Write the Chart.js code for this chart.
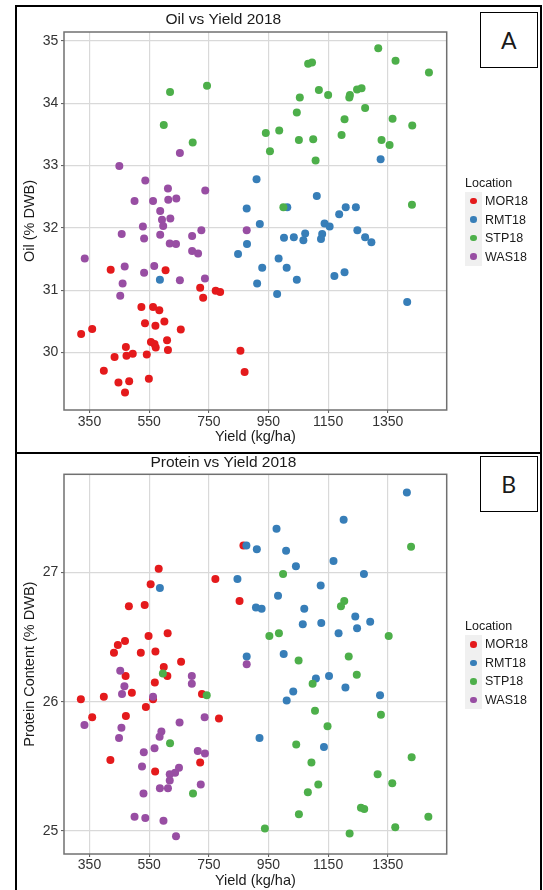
<!DOCTYPE html>
<html>
<head>
<meta charset="utf-8">
<title>Oil and Protein vs Yield 2018</title>
<script src="https://cdn.jsdelivr.net/npm/chart.js@4.4.1/dist/chart.umd.min.js"></script>
<style>
  html, body { margin: 0; padding: 0; background: #fff; }
  #page { position: relative; width: 543px; height: 890px; overflow: hidden; font-family: "Liberation Sans", Arial, sans-serif; color: #1a1a1a; }
  #page canvas { position: absolute; left: 0; }
  .frame { position: absolute; left: 15px; top: 4.5px; width: 527px; height: 900px; border: 2px solid #000; box-sizing: border-box; }
  .divider { position: absolute; left: 15px; top: 451.5px; width: 527px; height: 2px; background: #000; }
  .tag { position: absolute; left: 480px; width: 57.5px; height: 56px; border: 1.5px solid #000; box-sizing: border-box; background: #fff; font-family: Lato, "Open Sans", sans-serif; font-size: 23px; line-height: 55px; text-align: center; }
  .legend { position: absolute; left: 465px; font-size: 12.5px; }
  .legend .head { height: 18px; line-height: 18px; }
  .legend .row { display: flex; align-items: center; height: 18.6px; }
  .legend .key { width: 17px; height: 18.6px; background: #f0f0f0; position: relative; margin-right: 3px; }
  .legend .dot { position: absolute; left: 5px; top: 6px; width: 6.6px; height: 6.6px; border-radius: 50%; }
</style>
</head>
<body>
<div id="page">
  <canvas id="oil-chart" width="543" height="452" style="top:0"></canvas>
  <canvas id="protein-chart" width="543" height="438" style="top:452px"></canvas>
  <div class="frame"></div>
  <div class="divider"></div>
  <div class="tag" style="top:11.7px">A</div>
  <div class="tag" style="top:455.5px">B</div>
</div>
<script>
const locations = ['MOR18', 'RMT18', 'STP18', 'WAS18'];
const locationColors = ['#E41A1C', '#377EB8', '#4DAF4A', '#984EA3'];

const yieldTicks = [350, 550, 750, 950, 1150, 1350];
const oilTicks = [30, 31, 32, 33, 34, 35];
const proteinTicks = [25, 26, 27];

// [yield kg/ha, oil % DWB]
const oilMOR = [[421,31.33],[605,31.32],[721,31.04],[773,30.99],[788,30.97],[731,30.88],[524,30.73],[563,30.73],[584,30.68],[536,30.47],[601,30.50],[571,30.43],[656,30.37],[359,30.38],[322,30.30],[610,30.20],[556,30.17],[568,30.14],[572,30.08],[472,30.09],[613,30.04],[856,30.03],[434,29.93],[474,29.95],[495,29.98],[542,29.97],[398,29.71],[870,29.69],[447,29.52],[483,29.54],[549,29.58],[469,29.36]];
const oilRMT = [[1326,33.10],[910,32.78],[1112,32.51],[1013,32.33],[1209,32.33],[1243,32.33],[1187,32.22],[921,32.06],[1138,32.07],[1155,32.02],[877,32.31],[1073,31.91],[1130,31.90],[1126,31.82],[1002,31.84],[1035,31.85],[1067,31.80],[1248,31.96],[1274,31.85],[1295,31.77],[878,31.74],[984,31.51],[929,31.36],[1011,31.36],[912,31.11],[1045,31.17],[1171,31.23],[1205,31.29],[979,30.94],[1415,30.81],[848,31.58],[586,31.17]];
const oilSTP = [[1318,34.88],[1376,34.68],[1488,34.49],[1083,34.63],[1096,34.65],[1119,34.21],[1150,34.13],[1055,34.09],[1223,34.13],[1221,34.09],[1247,34.22],[1262,34.24],[1045,33.85],[1274,33.92],[1205,33.74],[1366,33.75],[1432,33.64],[941,33.52],[986,33.56],[955,33.23],[1052,33.41],[1100,33.42],[1195,33.49],[1329,33.41],[1356,33.33],[1108,33.08],[620,34.18],[744,34.28],[599,33.65],[696,33.37],[1000,32.33],[1431,32.37]];
const oilWAS = [[653,33.20],[450,32.99],[537,32.76],[738,32.60],[613,32.63],[501,32.43],[563,32.43],[614,32.45],[641,32.47],[587,32.27],[593,32.13],[621,32.15],[597,32.03],[529,32.02],[458,31.90],[587,31.89],[533,31.83],[725,31.96],[877,31.96],[694,31.87],[619,31.75],[640,31.74],[694,31.63],[714,31.59],[334,31.51],[468,31.38],[567,31.39],[533,31.28],[461,31.11],[453,30.91],[653,31.16],[737,31.19]];

// [yield kg/ha, protein % DWB]
const proteinMOR = [[866,27.21],[582,27.03],[772,26.95],[555,26.91],[853,26.78],[482,26.74],[535,26.75],[612,26.53],[548,26.51],[469,26.47],[445,26.44],[432,26.38],[522,26.38],[571,26.39],[657,26.31],[599,26.27],[611,26.20],[471,26.20],[569,26.15],[492,26.07],[727,26.06],[398,26.04],[563,26.02],[321,26.02],[539,25.96],[359,25.88],[472,25.89],[784,25.87],[420,25.55],[721,25.53],[570,25.46]];
const proteinRMT = [[1414,27.62],[1202,27.41],[977,27.34],[876,27.21],[911,27.18],[1009,27.17],[1042,27.05],[1168,27.09],[1270,26.99],[846,26.95],[1125,26.90],[982,26.82],[908,26.73],[927,26.72],[1070,26.72],[1065,26.60],[1127,26.61],[1241,26.66],[1291,26.62],[1185,26.53],[1247,26.57],[1001,26.37],[1109,26.18],[1153,26.20],[1208,26.11],[1033,26.08],[1011,26.01],[1324,26.05],[920,25.72],[1136,25.65],[586,26.88],[877,26.35]];
const proteinSTP = [[1428,27.20],[999,26.99],[1204,26.78],[1193,26.74],[953,26.51],[985,26.53],[1353,26.51],[1219,26.35],[1051,26.32],[1246,26.21],[1098,26.14],[1106,25.93],[1327,25.90],[1148,25.81],[1043,25.67],[1430,25.57],[1094,25.53],[1316,25.44],[1117,25.36],[1365,25.37],[1082,25.30],[1260,25.18],[1271,25.17],[1052,25.13],[1486,25.11],[938,25.02],[1375,25.03],[1222,24.98],[596,26.22],[743,26.05],[620,25.68],[697,25.29]];
const proteinWAS = [[877,26.29],[453,26.24],[693,26.20],[693,26.14],[467,26.12],[459,26.06],[563,26.04],[736,25.88],[333,25.82],[457,25.80],[652,25.84],[591,25.77],[585,25.73],[449,25.72],[568,25.64],[532,25.61],[713,25.62],[737,25.60],[526,25.50],[650,25.49],[637,25.45],[619,25.44],[619,25.39],[586,25.33],[613,25.33],[723,25.36],[531,25.29],[501,25.11],[537,25.10],[598,25.08],[640,24.96]];

const fontFamily = "'Liberation Sans', Arial, sans-serif";

// grey frame round the plotting panel, like the ggplot panel border
const panelBox = {
  id: 'panelBox',
  afterDraw(chart) {
    const ctx = chart.ctx;
    const a = chart.chartArea;
    ctx.save();
    ctx.strokeStyle = '#707070';
    ctx.lineWidth = 1.5;
    ctx.strokeRect(a.left, a.top, a.right - a.left, a.bottom - a.top);
    ctx.restore();
  }
};

const gridStyle = { color: '#d9d9d9', lineWidth: 1.2, tickLength: 3, tickColor: '#555', tickWidth: 1 };

function buildPanel(canvasId, panel) {
  // later locations are drawn on top, as in the original plot
  const datasets = locations.map((location, i) => ({
    label: location,
    data: panel.series[i].map((p) => ({ x: p[0], y: p[1] })),
    backgroundColor: locationColors[i],
    borderColor: locationColors[i],
    borderWidth: 0,
    pointRadius: 4,
    pointHoverRadius: 4,
    order: locations.length - i
  }));

  return new Chart(document.getElementById(canvasId), {
    type: 'scatter',
    data: { datasets: datasets },
    options: {
      responsive: false,
      animation: false,
      events: [],
      layout: { padding: { left: 0, right: 96.3, top: 0, bottom: 0 } },
      plugins: {
        legend: { display: false },
        tooltip: { enabled: false },
        title: {
          display: true,
          text: panel.title,
          color: '#1a1a1a',
          font: { family: fontFamily, size: 15.5, weight: 'normal' },
          padding: panel.titlePadding
        }
      },
      scales: {
        x: {
          type: 'linear',
          min: 264.5,
          max: 1547.5,
          afterBuildTicks: (scale) => { scale.ticks = yieldTicks.map((v) => ({ value: v })); },
          afterFit: (scale) => { scale.height = panel.xAxisHeight; },
          grid: gridStyle,
          border: { display: false },
          ticks: { color: '#333', font: { family: fontFamily, size: 14 }, padding: panel.xTickPadding, maxRotation: 0, autoSkip: false, callback: (v) => String(v) },
          title: { display: true, text: 'Yield (kg/ha)', color: '#1a1a1a', font: { family: fontFamily, size: 14.5 }, padding: { top: 0, bottom: panel.xTitlePadding } }
        },
        y: {
          type: 'linear',
          min: panel.yMin,
          max: panel.yMax,
          afterBuildTicks: (scale) => { scale.ticks = panel.yTicks.map((v) => ({ value: v })); },
          afterFit: (scale) => { scale.width = 64; },
          grid: gridStyle,
          border: { display: false },
          ticks: { color: '#333', font: { family: fontFamily, size: 14 }, padding: 2.7, autoSkip: false, callback: (v) => String(v) },
          title: { display: true, text: panel.yTitle, color: '#1a1a1a', font: { family: fontFamily, size: 14.5 }, padding: { top: 21.3, bottom: 0 } }
        }
      }
    },
    plugins: [panelBox]
  });
}

function buildLegend(top) {
  const legend = document.createElement('div');
  legend.className = 'legend';
  legend.style.top = top + 'px';

  const head = document.createElement('div');
  head.className = 'head';
  head.textContent = 'Location';
  legend.appendChild(head);

  locations.forEach((location, i) => {
    const row = document.createElement('div');
    row.className = 'row';
    const key = document.createElement('div');
    key.className = 'key';
    const dot = document.createElement('div');
    dot.className = 'dot';
    dot.style.background = locationColors[i];
    key.appendChild(dot);
    const label = document.createElement('span');
    label.textContent = location;
    row.appendChild(key);
    row.appendChild(label);
    legend.appendChild(row);
  });

  document.getElementById('page').appendChild(legend);
}

buildPanel('oil-chart', {
  title: 'Oil vs Yield 2018',
  titlePadding: { top: 10, bottom: 3.4 },
  series: [oilMOR, oilRMT, oilSTP, oilWAS],
  yTitle: 'Oil (% DWB)',
  yTicks: oilTicks,
  yMin: 29.08,
  yMax: 35.14,
  xAxisHeight: 42,
  xTickPadding: 1,
  xTitlePadding: 6.6
});

buildPanel('protein-chart', {
  title: 'Protein vs Yield 2018',
  titlePadding: { top: 1.9, bottom: 1.8 },
  series: [proteinMOR, proteinRMT, proteinSTP, proteinWAS],
  yTitle: 'Protein Content (% DWB)',
  yTicks: proteinTicks,
  yMin: 24.822,
  yMax: 27.761,
  xAxisHeight: 36,
  xTickPadding: 0,
  xTitlePadding: 0
});

buildLegend(173.7);
buildLegend(617);
</script>
</body>
</html>
